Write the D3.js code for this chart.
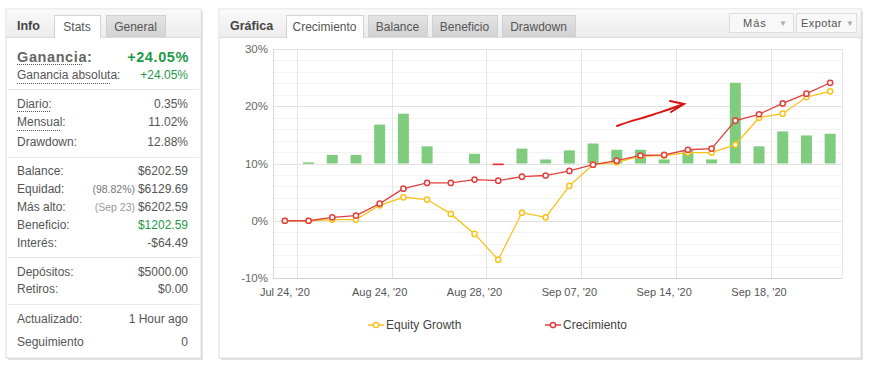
<!DOCTYPE html>
<html>
<head>
<meta charset="utf-8">
<script src="https://cdnjs.cloudflare.com/ajax/libs/d3/7.8.5/d3.min.js"></script>
<style>
  body { margin: 0; background: #fff; }
  svg text { font-family: Arial, "Liberation Sans", sans-serif; }
</style>
</head>
<body>
<svg id="chart" width="882" height="371"></svg>
<script>
// chart data
const categories = ["Jul 24, '20", "Jul 27, '20", "Jul 31, '20", "Aug 21, '20", "Aug 24, '20", "Aug 25, '20",
  "Aug 26, '20", "Aug 27, '20", "Aug 28, '20", "Aug 31, '20", "Sep 01, '20", "Sep 02, '20",
  "Sep 07, '20", "Sep 08, '20", "Sep 09, '20", "Sep 10, '20", "Sep 14, '20", "Sep 15, '20",
  "Sep 16, '20", "Sep 17, '20", "Sep 18, '20", "Sep 21, '20", "Sep 22, '20", "Sep 23, '20"];
const equityGrowth = [0, 0, 0.2, 0.2, 2.7, 4.1, 3.7, 1.2, -2.3, -6.8, 1.4, 0.6,
  6.1, 9.8, 10.2, 11.3, 11.4, 11.9, 11.9, 13.3, 18.0, 18.7, 21.6, 22.6];
const crecimiento = [0, 0, 0.6, 0.9, 3.0, 5.6, 6.6, 6.6, 7.2, 7.0, 7.7, 7.9,
  8.7, 9.8, 10.5, 11.4, 11.5, 12.4, 12.6, 17.5, 18.6, 20.5, 22.2, 24.1];
const dailyGain = [null, 0.2, 1.5, 1.5, 6.8, 8.7, 3.0, null, 1.7, -0.3, 2.6, 0.7,
  2.3, 3.5, 2.4, 2.4, 0.7, 2.3, 0.7, 14.1, 3.0, 5.6, 4.9, 5.2];
const yTicks = [-10, 0, 10, 20, 30];
const xLabelIdx = [0, 4, 8, 12, 16, 20];

// info panel rows: label, value, grey prefix, value colour
const infoLabels = ["Diario:", "Mensual:", "Drawdown:", "Balance:", "Equidad:", "Más alto:", "Beneficio:", "Interés:", "Depósitos:", "Retiros:", "Actualizado:", "Seguimiento"];
const infoValues = ["0.35%", "11.02%", "12.88%", "$6202.59", "$6129.69", "$6202.59", "$1202.59", "-$64.49", "$5000.00", "$0.00", "1 Hour ago", "0"];
const infoPrefix = ["", "", "", "", "(98.82%) ", "(Sep 23) ", "", "", "", "", "", ""];
const infoGreen = [false, false, false, false, false, false, true, false, false, false, false, false];
const infoBase = [108, 126, 146, 175, 193, 211, 229, 247, 276, 293, 323, 346];

const chartTabs = ["Crecimiento", "Balance", "Beneficio", "Drawdown"];
const tabX = [[286, 363], [368, 427], [432, 497], [502, 575]];

const svg = d3.select('#chart');
const defs = svg.append('defs');
const hg = defs.append('linearGradient').attr('id', 'hdr').attr('x1', 0).attr('y1', 0).attr('x2', 0).attr('y2', 1);
hg.append('stop').attr('offset', 0).attr('stop-color', '#fafafa');
hg.append('stop').attr('offset', 1).attr('stop-color', '#ececec');
const tg = defs.append('linearGradient').attr('id', 'tabOff').attr('x1', 0).attr('y1', 0).attr('x2', 0).attr('y2', 1);
tg.append('stop').attr('offset', 0).attr('stop-color', '#e4e4e4');
tg.append('stop').attr('offset', 1).attr('stop-color', '#d2d2d2');

function panel(x0, x1, y0, y1, title) {
  svg.append('rect').attr('x', x0 + 2).attr('y', y0 + 2).attr('width', x1 - x0).attr('height', y1 - y0).attr('fill', '#e2e2e2');
  svg.append('rect').attr('x', x0).attr('y', y0).attr('width', x1 - x0).attr('height', y1 - y0)
    .attr('fill', '#fff').attr('stroke', '#dcdcdc');
  svg.append('rect').attr('x', x0 + 0.5).attr('y', y0 + 0.5).attr('width', x1 - x0 - 1).attr('height', 28)
    .attr('fill', 'url(#hdr)');
  svg.append('line').attr('x1', x0).attr('x2', x1).attr('y1', y0 + 28.5).attr('y2', y0 + 28.5).attr('stroke', '#dcdcdc');
  svg.append('text').attr('x', x0 + 11).attr('y', y0 + 21).attr('font-size', 12.5).attr('font-weight', 'bold')
    .attr('fill', '#444').text(title);
}

function tab(x0, x1, label, active) {
  svg.append('rect').attr('x', x0 + 0.5).attr('y', 15.5).attr('width', x1 - x0).attr('height', active ? 22 : 21)
    .attr('fill', active ? '#fff' : 'url(#tabOff)').attr('stroke', active ? '#d4d4d4' : '#d0d0d0');
  if (active) svg.append('line').attr('x1', x0 + 1).attr('x2', x1).attr('y1', 37.5).attr('y2', 37.5).attr('stroke', '#fff').attr('stroke-width', 2);
  svg.append('text').attr('x', (x0 + x1) / 2).attr('y', 31).attr('text-anchor', 'middle')
    .attr('font-size', 12).attr('fill', '#555').text(label);
}

// ---- left info panel ----
panel(6, 201, 9, 358, 'Info');
tab(54, 100, 'Stats', true);
tab(106, 165, 'General', false);

svg.append('text').attr('x', 17).attr('y', 62).attr('font-size', 14.5).attr('font-weight', 'bold')
  .attr('fill', '#666').attr('letter-spacing', 0.6).text('Ganancia:');
svg.append('text').attr('x', 189).attr('y', 62).attr('text-anchor', 'end').attr('font-size', 14.5)
  .attr('font-weight', 'bold').attr('fill', '#1f9a48').attr('letter-spacing', 0.6).text('+24.05%');
svg.append('text').attr('x', 17).attr('y', 79).attr('font-size', 12).attr('fill', '#555').text('Ganancia absoluta:');
svg.append('text').attr('x', 188).attr('y', 79).attr('text-anchor', 'end').attr('font-size', 12).attr('fill', '#1f9a48').text('+24.05%');

[[17, 83, 64.5], [17, 110, 83.5], [17, 50, 111.5], [17, 60, 130.5]].forEach(([a, b, yy]) => {
  svg.append('line').attr('x1', a).attr('x2', b).attr('y1', yy).attr('y2', yy)
    .attr('stroke', '#555').attr('stroke-dasharray', '1,1');
});
[89, 157, 257, 304].forEach(yy => {
  svg.append('line').attr('x1', 8).attr('x2', 199).attr('y1', yy + 0.5).attr('y2', yy + 0.5).attr('stroke', '#e8e8e8');
});

infoLabels.forEach((lab, i) => {
  svg.append('text').attr('x', 17).attr('y', infoBase[i]).attr('font-size', 12).attr('fill', '#555').text(lab);
  const t = svg.append('text').attr('x', 188).attr('y', infoBase[i]).attr('text-anchor', 'end').attr('font-size', 12);
  if (infoPrefix[i]) t.append('tspan').attr('font-size', 10.5).attr('fill', i === 5 ? '#999' : '#777').text(infoPrefix[i]);
  t.append('tspan').attr('fill', infoGreen[i] ? '#1f9a48' : '#555').text(infoValues[i]);
});

// ---- chart panel ----
panel(219, 861, 9, 358, 'Gráfica');
chartTabs.forEach((c, i) => tab(tabX[i][0], tabX[i][1], c, i === 0));

[[729, 793, 'Más', 743, 1, 783], [796, 856, 'Expotar', 801, 0.4, 850]].forEach(([a, b, lab, tx, ls, ax]) => {
  svg.append('rect').attr('x', a + 0.5).attr('y', 13.5).attr('width', b - a).attr('height', 19)
    .attr('fill', '#f8f8f8').attr('stroke', '#dedede');
  svg.append('text').attr('x', tx).attr('y', 27).attr('font-size', 11).attr('fill', '#555')
    .attr('letter-spacing', ls).text(lab);
  svg.append('text').attr('x', ax).attr('y', 26).attr('text-anchor', 'middle').attr('font-size', 8).attr('fill', '#aaa').text('▼');
});

const plotLeft = 273, plotRight = 842, plotTop = 49, plotBottom = 278;
const x = d3.scaleBand().domain(d3.range(categories.length)).range([plotLeft, plotRight]);
const y = d3.scaleLinear().domain([-10, 30]).range([plotBottom, plotTop]);
const yBar = d3.scaleLinear().domain([-20, 20]).range([plotBottom, plotTop]);
const cx = i => x(i) + x.bandwidth() / 2;

const g = svg.append('g');
// minor grid
d3.range(-8, 30, 2).filter(v => v % 10 !== 0).forEach(v => {
  g.append('line').attr('x1', plotLeft).attr('x2', plotRight).attr('y1', Math.round(y(v)) + 0.5).attr('y2', Math.round(y(v)) + 0.5)
    .attr('stroke', '#f3f3f3');
});
yTicks.forEach(v => {
  g.append('line').attr('x1', plotLeft).attr('x2', plotRight).attr('y1', Math.round(y(v)) + 0.5).attr('y2', Math.round(y(v)) + 0.5)
    .attr('stroke', v === -10 ? '#c9d1dc' : '#e2e2e2');
});
xLabelIdx.forEach(i => {
  const gx = Math.round(x(i) + x.bandwidth()) + 0.5;
  g.append('line').attr('x1', gx).attr('x2', gx).attr('y1', plotTop).attr('y2', plotBottom).attr('stroke', '#e4e4e4');
});
g.append('line').attr('x1', plotLeft + 0.5).attr('x2', plotLeft + 0.5).attr('y1', plotTop).attr('y2', plotBottom).attr('stroke', '#d6dbe3');
g.append('line').attr('x1', plotRight + 0.5).attr('x2', plotRight + 0.5).attr('y1', plotTop).attr('y2', plotBottom).attr('stroke', '#e6e6e6');

const yAxis = d3.axisLeft(y).tickValues(yTicks).tickFormat(d => d + '%').tickSize(0).tickPadding(5);
const ya = svg.append('g').attr('transform', `translate(${plotLeft},0)`).call(yAxis);
ya.select('.domain').remove();
ya.selectAll('text').attr('font-size', 11.5).attr('fill', '#666').attr('font-family', 'Arial, "Liberation Sans", sans-serif');

const xAxis = d3.axisBottom(x).tickValues(xLabelIdx).tickFormat(i => categories[i]).tickSize(0).tickPadding(10);
const xa = svg.append('g').attr('transform', `translate(0,${plotBottom})`).call(xAxis);
xa.select('.domain').remove();
xa.selectAll('text').attr('font-size', 11).attr('fill', '#555').attr('font-family', 'Arial, "Liberation Sans", sans-serif');

// bars
const bw = 11;
g.selectAll('rect.bar').data(dailyGain.map((v, i) => ({ v, i })).filter(d => d.v !== null))
  .enter().append('rect').attr('class', 'bar')
  .attr('x', d => cx(d.i) - bw / 2)
  .attr('y', d => Math.min(yBar(d.v), yBar(0)))
  .attr('width', bw)
  .attr('height', d => Math.max(1.5, Math.abs(yBar(d.v) - yBar(0))))
  .attr('fill', d => d.v < 0 ? '#e8323a' : '#7fcc7f');

// lines
function series(data, color) {
  const line = d3.line().x((d, i) => cx(i)).y(d => y(d));
  g.append('path').attr('d', line(data)).attr('fill', 'none').attr('stroke', color).attr('stroke-width', 1.3);
  g.selectAll(null).data(data).enter().append('circle')
    .attr('cx', (d, i) => cx(i)).attr('cy', d => y(d)).attr('r', 2.6)
    .attr('fill', '#fff').attr('stroke', color).attr('stroke-width', 1.5);
}
series(equityGrowth, '#f7c21b');
series(crecimiento, '#e1403e');

// hand-drawn arrow annotation
svg.append('path')
  .attr('d', 'M617,126 C630,121 640,119 652,115 C664,111 674,108 683,104 M670,101 L684,104 L671,112')
  .attr('fill', 'none').attr('stroke', '#d81414').attr('stroke-width', 2).attr('stroke-linecap', 'round');

// legend
const legend = [['Equity Growth', '#f7c21b', 376], ['Crecimiento', '#e1403e', 553]];
legend.forEach(([lab, col, lx]) => {
  svg.append('line').attr('x1', lx - 8).attr('x2', lx + 8).attr('y1', 325).attr('y2', 325).attr('stroke', col).attr('stroke-width', 1.5);
  svg.append('circle').attr('cx', lx).attr('cy', 325).attr('r', 2.6).attr('fill', '#fff').attr('stroke', col).attr('stroke-width', 1.5);
  svg.append('text').attr('x', lx + 10).attr('y', 329).attr('font-size', 12).attr('fill', '#444').text(lab);
});
</script>
</body>
</html>
